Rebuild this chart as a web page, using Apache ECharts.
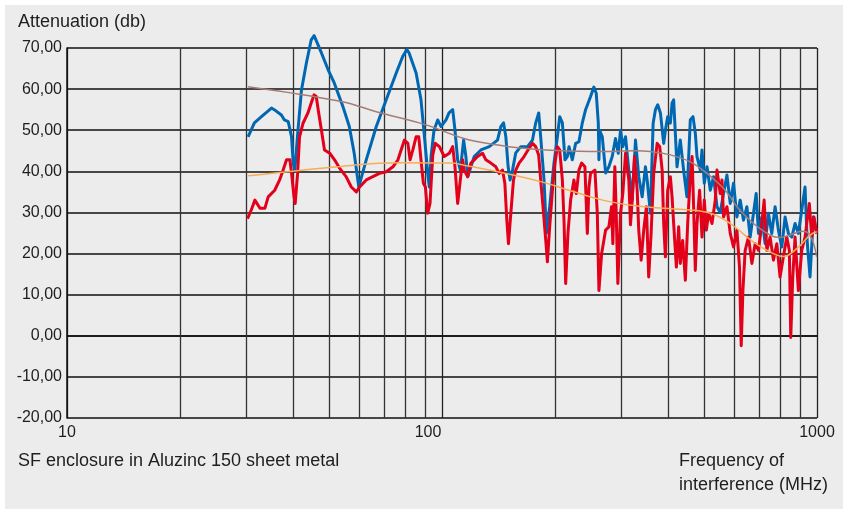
<!DOCTYPE html>
<html><head><meta charset="utf-8">
<script src="https://cdn.jsdelivr.net/npm/echarts@6/dist/echarts.min.js"></script>
<style>html,body{margin:0;padding:0;background:#fff;}#c{width:843px;height:509px;}</style>
</head><body><div id="c"></div>
<script>
// ---- data (frequency MHz, attenuation dB) ----
const yTicks = [-20,-10,0,10,20,30,40,50,60,70];
const xTickLabels = ['10','100','1000'];
const gridFreqs = [20,30,40,50,60,70,80,90,200,300,400,500,600,700,800,900];

const blue = [[30.4,48.4],[31.6,51.8],[33.0,53.3],[35.1,55.4],[35.7,55.0],[37.3,53.7],[38.0,52.5],[38.9,52.1],[39.7,48.4],[40.1,42.0],[40.5,40.3],[41.3,50.0],[42.2,59.8],[43.5,66.4],[44.8,72.0],[45.6,73.0],[47.7,68.8],[49.7,64.7],[51.6,61.5],[54.4,55.8],[56.6,50.9],[58.3,44.5],[60.0,36.2],[62.8,42.8],[66.8,50.9],[71.0,57.4],[75.5,63.9],[78.6,68.0],[80.6,69.6],[81.7,68.8],[85.3,63.9],[87.9,57.4],[89.6,49.3],[91.6,39.6],[92.5,36.2],[93.5,43.6],[95.2,50.0],[97.4,52.5],[99.4,50.9],[102.5,52.5],[104.4,54.2],[106.8,55.0],[108.3,50.0],[110.1,42.7],[111.9,40.3],[114.2,47.6],[115.8,43.6],[117.1,38.7],[119.4,41.1],[121.9,43.6],[127.0,45.2],[133.6,46.0],[140.6,47.6],[143.5,50.9],[145.9,51.8],[148.0,48.4],[150.1,41.1],[151.9,37.9],[154.2,40.3],[157.3,44.5],[162.2,46.0],[169.0,46.0],[174.3,47.6],[177.8,51.8],[181.1,54.2],[183.3,48.4],[187.1,37.9],[189.9,25.0],[193.7,31.4],[198.9,42.0],[203.1,48.4],[206.0,53.3],[209.4,51.8],[212.8,42.8],[215.9,43.6],[218.1,46.0],[222.6,42.8],[227.2,46.8],[231.8,47.2],[236.7,51.8],[241.5,55.0],[249.0,58.2],[254.1,60.5],[257.8,59.0],[261.1,51.8],[262.1,42.8],[263.2,50.0],[267.6,48.4],[273.1,39.6],[278.6,41.1],[284.4,43.6],[290.2,48.0],[295.1,44.4],[299.3,50.0],[303.5,46.0],[308.6,48.4],[314.9,40.3],[321.5,33.0],[328.1,47.6],[334.7,38.7],[341.8,33.8],[348.7,41.1],[352.4,37.9],[359.6,29.8],[365.6,51.7],[370.8,55.0],[376.1,56.2],[382.3,54.2],[390.1,46.8],[394.2,50.0],[399.8,53.3],[406.4,51.7],[410.7,56.6],[414.7,57.4],[419.0,49.3],[423.4,41.1],[432.0,47.6],[440.8,40.3],[450.0,33.8],[459.3,52.5],[467.0,53.3],[473.7,49.3],[478.6,43.6],[488.4,40.3],[493.6,45.2],[500.6,37.1],[509.0,41.1],[519.4,35.4],[530.0,38.7],[541.1,31.4],[552.1,30.0],[563.4,34.6],[575.2,39.1],[587.0,32.2],[599.0,37.1],[611.5,28.9],[624.0,33.0],[636.8,28.1],[650.1,31.4],[663.4,24.0],[677.0,29.8],[688.4,34.6],[698.1,24.9],[712.7,28.9],[727.2,22.4],[742.1,29.8],[757.6,24.9],[773.2,31.4],[789.0,25.7],[805.6,21.6],[822.1,28.9],[838.9,24.9],[856.5,24.0],[874.0,27.3],[891.9,24.9],[910.6,30.6],[929.2,36.2],[942.3,22.4],[958.1,14.3],[977.7,28.9],[998,24.9]];

const red = [[30.3,28.5],[31.0,30.6],[31.7,33.0],[32.7,31.0],[33.7,31.0],[34.4,33.8],[35.8,35.4],[36.9,37.9],[37.7,40.3],[38.5,42.8],[39.3,42.8],[39.7,39.6],[40.3,33.8],[40.6,32.2],[41.2,39.5],[41.7,48.4],[42.6,51.7],[43.9,54.2],[44.8,56.6],[45.6,58.6],[46.2,58.2],[46.9,54.2],[47.7,50.0],[48.6,45.2],[50.2,44.4],[51.7,42.8],[53.3,40.8],[55.5,38.7],[57.3,36.2],[59.1,35.0],[60.3,36.2],[62.8,37.9],[65.4,38.7],[68.1,39.5],[71.0,39.9],[74.0,41.1],[76.3,42.8],[77.8,45.2],[79.4,47.6],[81.1,46.8],[82.2,42.8],[83.6,45.2],[85.3,48.4],[86.7,48.4],[87.9,42.8],[89.2,37.1],[90.3,36.2],[91.6,29.8],[92.9,32.2],[94.5,44.0],[96.0,46.8],[98.4,46.0],[101.4,43.6],[104.6,44.4],[106.8,46.0],[108.3,41.1],[110.1,32.2],[111.9,37.9],[113.5,42.8],[114.6,40.3],[117.1,38.7],[119.4,42.0],[121.9,42.8],[124.4,43.6],[128.3,44.4],[130.9,42.8],[135.0,42.0],[139.2,41.1],[142.0,39.5],[145.0,40.3],[147.1,37.1],[148.9,28.1],[150.4,22.4],[152.6,29.8],[155.1,37.9],[157.3,40.3],[160.5,42.0],[165.5,43.6],[170.7,45.6],[174.3,46.8],[177.8,46.0],[181.0,44.0],[183.3,37.9],[185.9,31.4],[189.1,23.2],[191.0,18.0],[193.7,26.5],[197.0,35.4],[200.1,42.0],[203.1,46.0],[206.0,45.2],[209.4,37.9],[211.5,28.1],[213.7,12.7],[216.7,24.9],[220.3,33.0],[224.8,37.9],[228.1,34.6],[231.8,40.3],[235.7,42.0],[240.5,41.1],[244.1,24.9],[246.5,36.2],[249.0,39.5],[255.7,40.3],[259.5,29.8],[262.1,11.0],[266.5,20.0],[273.1,25.7],[278.6,26.5],[283.2,31.4],[285.5,22.4],[289.0,41.1],[291.5,29.8],[294.4,12.7],[299.3,29.8],[303.5,34.6],[308.6,44.4],[314.9,37.9],[318.1,27.0],[321.5,33.0],[326.1,43.6],[331.5,35.4],[334.7,25.7],[339.7,18.4],[345.1,25.7],[350.9,31.4],[355.8,14.3],[361.1,24.9],[366.9,39.5],[374.7,46.8],[380.7,46.0],[386.4,40.3],[390.1,27.3],[394.2,19.2],[399.8,35.4],[406.4,38.7],[410.7,33.8],[414.7,27.3],[421.7,16.7],[427.7,26.5],[432.0,17.6],[438.3,23.2],[445.6,13.5],[452.0,27.3],[459.3,38.7],[464.4,43.6],[468.8,31.4],[473.7,15.9],[478.6,27.3],[486.4,35.4],[493.6,24.0],[500.6,33.0],[506.9,25.7],[514.0,29.8],[524.8,27.3],[535.5,33.0],[541.1,40.3],[552.1,34.6],[557.9,37.9],[563.4,28.9],[575.2,31.4],[587.0,24.9],[599.0,21.6],[611.5,25.7],[621.4,16.7],[627.9,-2.4],[634.5,11.0],[643.4,20.8],[656.6,24.0],[670.4,17.6],[684.1,22.4],[698.1,20.8],[712.7,27.3],[722.8,33.0],[734.8,20.8],[749.9,24.0],[765.2,18.4],[781.2,22.4],[797.1,14.3],[813.5,19.2],[830.5,24.0],[843.8,20.8],[851.2,-0.4],[861.7,14.3],[874.0,24.0],[891.9,11.0],[910.6,20.8],[929.2,24.0],[953.9,32.2],[968.1,24.0],[981.7,28.9],[998,24.9]];

const brown = [[30.4,60.6],[53.9,57.0],[66.8,54.5],[90.7,51.3],[114.4,48.0],[140.9,46.4],[165.2,45.6],[189.1,45.2],[261.6,44.8],[328.1,45.0],[359.6,44.8],[406.4,44.0],[459.3,42.3],[509.0,39.5],[569.2,35.4],[611.5,31.4],[677.0,27.3],[749.9,24.5],[797.1,23.9],[847.5,24.5],[910.6,25.4],[958.1,24.5],[998,19.2]];

const orange = [[30.4,38.9],[53.9,41.2],[76.3,42.1],[105.7,42.0],[114.4,41.5],[140.9,39.9],[183.3,37.5],[218.1,35.4],[268.1,33.0],[328.1,31.6],[390.1,31.0],[459.3,30.6],[519.4,29.8],[569.2,28.1],[611.5,26.1],[677.0,22.8],[749.9,20.4],[813.5,19.3],[883.1,21.2],[958.1,24.5],[998,25.3]];

// ---- chart ----
const FONT = '"Liberation Sans", Arial, Helvetica, sans-serif';
const TXT = '#1e1e1e';
const chart = echarts.init(document.getElementById('c'), null, {renderer: 'canvas'});
chart.setOption({
  animation: false,
  backgroundColor: '#ffffff',
  graphic: [
    {type: 'rect', silent: true, z: -10, shape: {x: 5, y: 5, width: 838, height: 504}, style: {fill: '#ececec'}},
    {type: 'text', left: 18, top: 10, style: {text: 'Attenuation (db)', font: '18px ' + FONT, fill: TXT, lineHeight: 24}},
    {type: 'text', left: 18, top: 449, style: {text: 'SF enclosure in Aluzinc 150 sheet metal', font: '18px ' + FONT, fill: TXT, lineHeight: 24}},
    {type: 'text', left: 679, top: 449, style: {text: 'Frequency of\ninterference (MHz)', font: '18px ' + FONT, fill: TXT, lineHeight: 24}}
  ],
  grid: {left: 67, right: 26, top: 48, bottom: 91, containLabel: false},
  xAxis: {
    type: 'log', logBase: 10, min: 10, max: 1000,
    axisLine: {show: true, lineStyle: {color: '#111', width: 1.5}},
    axisTick: {show: false},
    splitLine: {show: true, lineStyle: {color: '#222', width: 1.3}},
    axisLabel: {
      show: true, margin: 7, showMinLabel: true, showMaxLabel: true,
      fontFamily: FONT, fontSize: 16, color: TXT,
      formatter: function (v) {
        const s = String(Math.round(v));
        if (xTickLabels.indexOf(s) < 0) return '';
        return s === '100' ? '{s|' + s + '}' : s;
      },
      rich: {s: {fontFamily: FONT, fontSize: 16, color: TXT, padding: [0, 28, 0, 0]}}
    }
  },
  yAxis: {
    type: 'value', min: yTicks[0], max: yTicks[yTicks.length - 1], interval: 10,
    axisLine: {show: true, lineStyle: {color: '#111', width: 1.5}},
    axisTick: {show: false},
    splitLine: {show: true, lineStyle: {color: '#111', width: 1.5}},
    axisLabel: {
      margin: 5, fontFamily: FONT, fontSize: 16, color: TXT,
      formatter: function (v) { return v.toFixed(2).replace('.', ','); }
    }
  },
  series: [
    {
      type: 'line', data: [], silent: true,
      markLine: {
        silent: true, z: 1, symbol: 'none', animation: false,
        label: {show: false},
        lineStyle: {color: '#333', width: 1.3, type: 'solid'},
        emphasis: {disabled: true},
        data: gridFreqs.map(function (f) { return {xAxis: f}; })
      }
    },
    {type: 'line', name: 'blue', data: blue, showSymbol: false, symbol: 'none', z: 3, clip: false,
      lineStyle: {color: '#0068b3', width: 3, join: 'round'}},
    {type: 'line', name: 'red', data: red, showSymbol: false, symbol: 'none', z: 4, clip: false,
      lineStyle: {color: '#e3001b', width: 3, join: 'round'}},
    {type: 'line', name: 'brown', data: brown, showSymbol: false, symbol: 'none', smooth: 0.4, z: 5,
      lineStyle: {color: '#a57c78', width: 1.5}},
    {type: 'line', name: 'orange', data: orange, showSymbol: false, symbol: 'none', smooth: 0.4, z: 6,
      lineStyle: {color: '#f6ad55', width: 1.5}}
  ]
});
</script>
</body></html>
